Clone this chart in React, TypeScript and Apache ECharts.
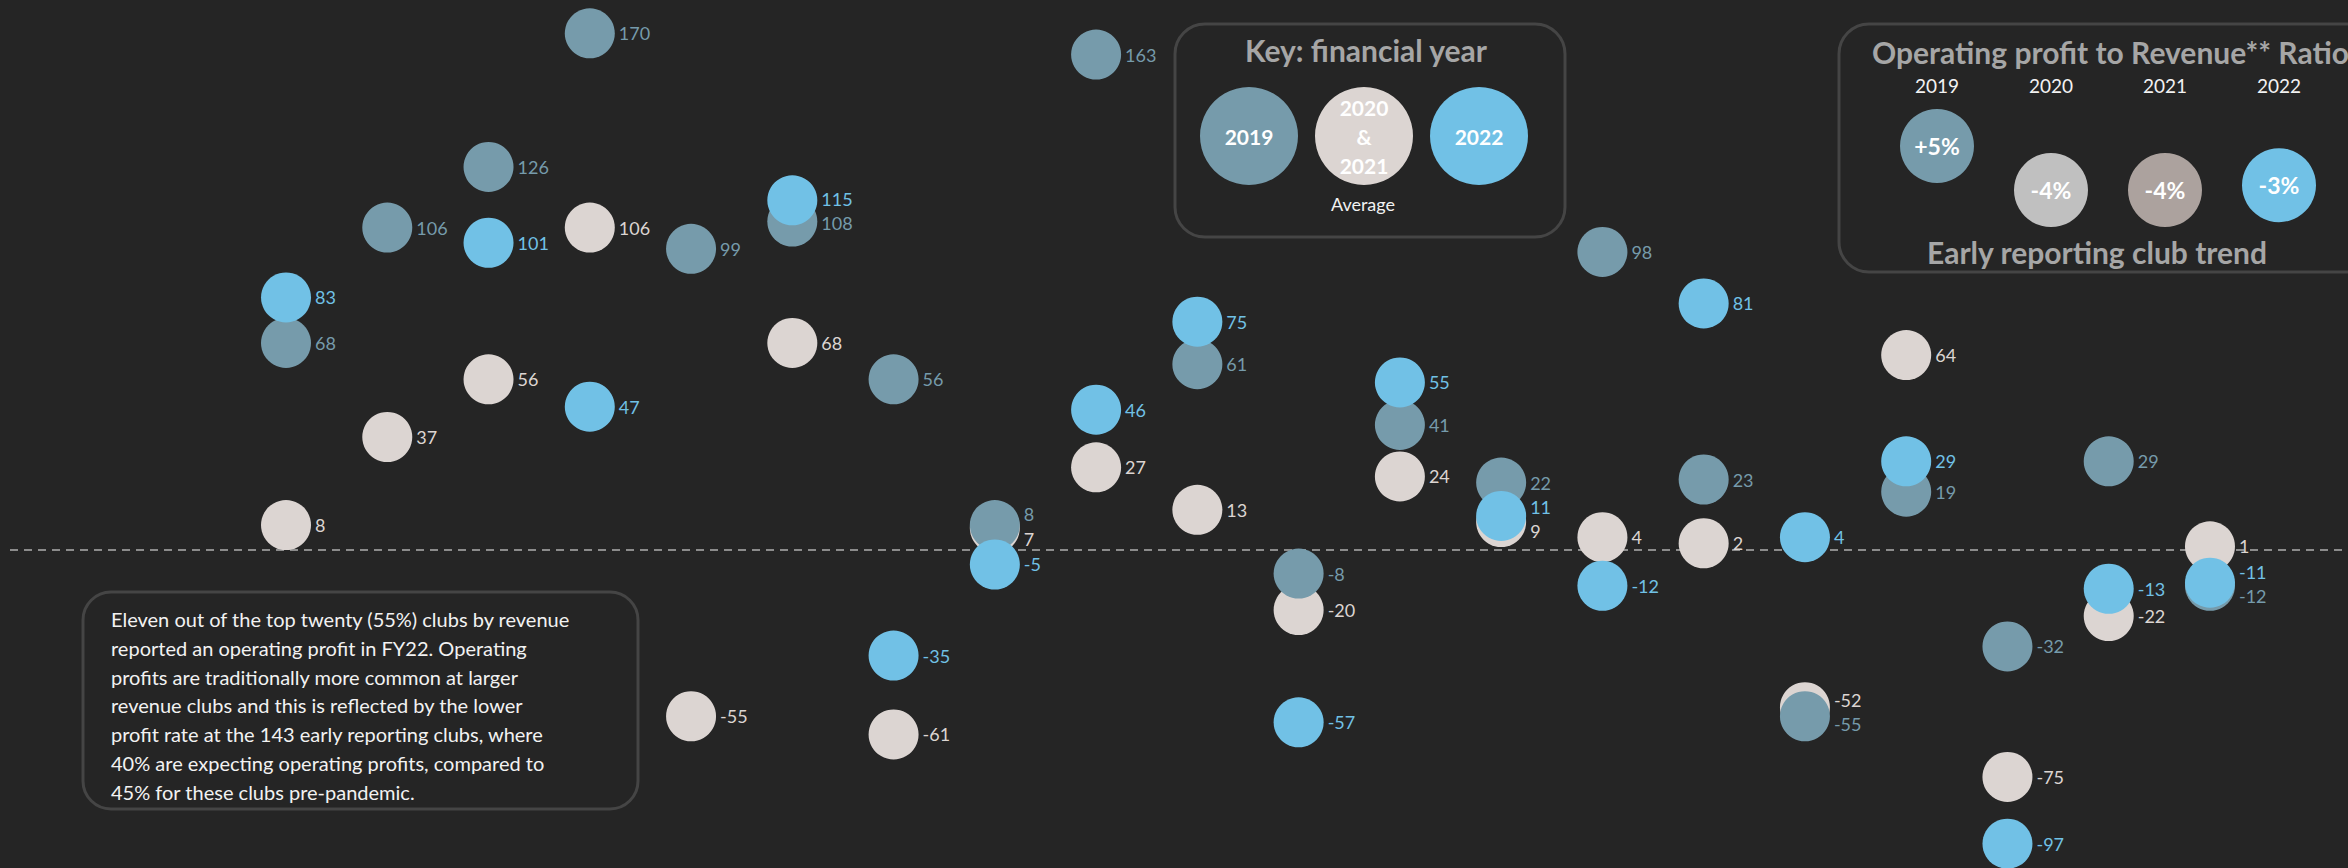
import React, { useEffect, useRef } from "react";
import * as echarts from "echarts";

// ---- data ----
const clubs = [1, 2, 3, 4, 5, 6, 7, 8, 9, 10, 11, 12, 13, 14, 15, 16, 17, 18, 19, 20];
const fy2019 = [68, 106, 126, 170, 99, 108, 56, 8, 163, 61, -8, 41, 22, 98, 23, -55, 19, -32, 29, -12];
const avg2020_2021 = [8, 37, 56, 106, -55, 68, -61, 7, 27, 13, -20, 24, 9, 4, 2, -52, 64, -75, -22, 1];
const fy2022: (number | null)[] = [83, null, 101, 47, null, 115, -35, -5, 46, 75, -57, 55, 11, -12, 81, 4, 29, -97, -13, -11];

const ratioYears = ["2019", "2020", "2021", "2022"];
const ratioValues = [5, -4, -4, -3];

const keyLabels = ["2019", "2020\n&\n2021", "2022"];
const noteLines = [
  "Eleven out of the top twenty (55%) clubs by revenue",
  "reported an operating profit in FY22. Operating",
  "profits are traditionally more common at larger",
  "revenue clubs and this is reflected by the lower",
  "profit rate at the 143 early reporting clubs, where",
  "40% are expecting operating profits, compared to",
  "45% for these clubs pre-pandemic.",
];

// ---- styles ----
const W = 2348;
const H = 868;
const BG = "#252525";
const C2019 = "#769bab";
const CAVG = "#dcd5d2";
const C2022 = "#71c1e6";
const RATIO_COLORS = ["#769bab", "#c0c0c0", "#aca29e", "#71c1e6"];
const FONT = "Lato, 'Liberation Sans', sans-serif";
const Y_MIN = -105;
const Y_MAX = 180;
const GRID_TOP = 3;
const GRID_BOTTOM = 0;
const PX_PER_UNIT = (H - GRID_TOP - GRID_BOTTOM) / (Y_MAX - Y_MIN);
const LABEL_GAP = 8; // minimum gap in value units between labels in a column

export default function App() {
  const ref = useRef<HTMLDivElement>(null);

  useEffect(() => {
    document.body.style.margin = "0";
    document.body.style.background = BG;
    if (!ref.current) return;
    const chart = echarts.init(ref.current, undefined, { renderer: "svg" });

    const seriesDefs = [
      { name: "2020 & 2021 Average", vals: avg2020_2021 as (number | null)[], color: CAVG },
      { name: "2019", vals: fy2019 as (number | null)[], color: C2019 },
      { name: "2022", vals: fy2022, color: C2022 },
    ];

    // label de-overlap shifts per column
    const shifts = seriesDefs.map((s) => s.vals.map(() => 0));
    clubs.forEach((_, c) => {
      const pts = seriesDefs
        .map((s, si) => ({ si, v: s.vals[c] }))
        .filter((p) => p.v !== null && p.v !== undefined)
        .sort((a, b) => (b.v as number) - (a.v as number));
      for (let k = 1; k < pts.length; k++) {
        const d = (pts[k - 1].v as number) - (pts[k].v as number);
        if (d < LABEL_GAP) {
          const push = ((LABEL_GAP - d) / 2) * PX_PER_UNIT;
          shifts[pts[k - 1].si][c] -= push;
          shifts[pts[k].si][c] += push;
        }
      }
    });

    const mainSeries = seriesDefs.map((s, si) => ({
      type: "scatter",
      name: s.name,
      xAxisIndex: 0,
      yAxisIndex: 0,
      symbol: "circle",
      symbolSize: 50,
      itemStyle: { color: s.color, opacity: 1 },
      label: {
        show: true,
        position: "right",
        distance: 4,
        color: s.color,
        fontSize: 18,
        fontFamily: FONT,
        formatter: (p: any) => String(p.value[1]),
      },
      emphasis: { disabled: true },
      data: clubs
        .map((c, i) =>
          s.vals[i] === null
            ? null
            : { value: [c, s.vals[i]], label: { offset: [0, shifts[si][i]] } }
        )
        .filter((d) => d !== null),
      markLine:
        si === 0
          ? {
              silent: true,
              symbol: "none",
              label: { show: false },
              lineStyle: { type: [8, 6], color: "#8c8c8c", width: 2 },
              data: [{ yAxis: 0 }],
              z: 1,
            }
          : undefined,
    }));

    const ratioSeries = {
      type: "scatter",
      xAxisIndex: 1,
      yAxisIndex: 1,
      symbolSize: 74,
      itemStyle: { color: (p: any) => RATIO_COLORS[p.dataIndex], opacity: 1 },
      label: {
        show: true,
        position: "inside",
        color: "#ffffff",
        fontWeight: "bold",
        fontSize: 23,
        fontFamily: FONT,
        formatter: (p: any) => (p.value[1] > 0 ? "+" : "") + p.value[1] + "%",
      },
      emphasis: { disabled: true },
      data: ratioYears.map((y, i) => [y, ratioValues[i]]),
    };

    const titleStyle = { fill: "#a6a6a6", fontSize: 30, fontWeight: "bold", fontFamily: FONT };

    const graphic: any[] = [
      // key box
      {
        type: "rect",
        shape: { x: 1175, y: 24, width: 390, height: 213, r: 30 },
        style: { fill: "none", stroke: "#454545", lineWidth: 3 },
        silent: true,
      },
      {
        type: "text",
        x: 1366,
        y: 50,
        style: { ...titleStyle, text: "Key: financial year", align: "center", verticalAlign: "middle" },
      },
      ...[C2019, CAVG, C2022].map((c, i) => ({
        type: "circle",
        shape: { cx: 1249 + i * 115, cy: 136, r: 49 },
        style: { fill: c },
        silent: true,
      })),
      ...keyLabels.map((t, i) => ({
        type: "text",
        x: 1249 + i * 115,
        y: 136,
        style: {
          text: t,
          fill: "#ffffff",
          fontSize: 21,
          fontWeight: "bold",
          fontFamily: FONT,
          align: "center",
          verticalAlign: "middle",
          lineHeight: 29,
        },
      })),
      {
        type: "text",
        x: 1363,
        y: 204,
        style: { text: "Average", fill: "#f2f2f2", fontSize: 18, fontFamily: FONT, align: "center", verticalAlign: "middle" },
      },
      // ratio box
      {
        type: "rect",
        shape: { x: 1839, y: 24, width: 560, height: 248, r: 30 },
        style: { fill: "none", stroke: "#454545", lineWidth: 3 },
        silent: true,
      },
      {
        type: "text",
        x: 1872,
        y: 52,
        style: { ...titleStyle, text: "Operating profit to Revenue** Ratio", align: "left", verticalAlign: "middle" },
      },
      {
        type: "text",
        x: 2097,
        y: 252,
        style: { ...titleStyle, text: "Early reporting club trend", align: "center", verticalAlign: "middle" },
      },
      // note box
      {
        type: "rect",
        shape: { x: 83, y: 592, width: 555, height: 217, r: 28 },
        style: { fill: BG, stroke: "#454545", lineWidth: 3 },
        silent: true,
        z: 10,
      },
      ...noteLines.map((t, i) => ({
        type: "text",
        x: 111,
        y: 619 + i * 28.8,
        z: 11,
        style: { text: t, fill: "#f2f2f2", fontSize: 20, fontFamily: FONT, align: "left", verticalAlign: "middle" },
      })),
    ];

    chart.setOption({
      animation: false,
      backgroundColor: BG,
      grid: [
        { left: 10, right: 0, top: GRID_TOP, bottom: GRID_BOTTOM },
        { left: 1880, right: 12, top: 121.5, bottom: 648.5 },
      ],
      xAxis: [
        { gridIndex: 0, type: "value", min: -1.7257, max: 21.363, show: false },
        {
          gridIndex: 1,
          type: "category",
          data: ratioYears,
          position: "top",
          axisLine: { show: false },
          axisTick: { show: false },
          splitLine: { show: false },
          axisLabel: { color: "#f2f2f2", fontSize: 19, fontFamily: FONT, margin: 27 },
        },
      ],
      yAxis: [
        { gridIndex: 0, type: "value", min: Y_MIN, max: Y_MAX, show: false },
        { gridIndex: 1, type: "value", min: -10, max: 10, show: false },
      ],
      series: [...mainSeries, ratioSeries],
      graphic,
    });

    return () => chart.dispose();
  }, []);

  return <div ref={ref} style={{ width: W, height: H }} />;
}
